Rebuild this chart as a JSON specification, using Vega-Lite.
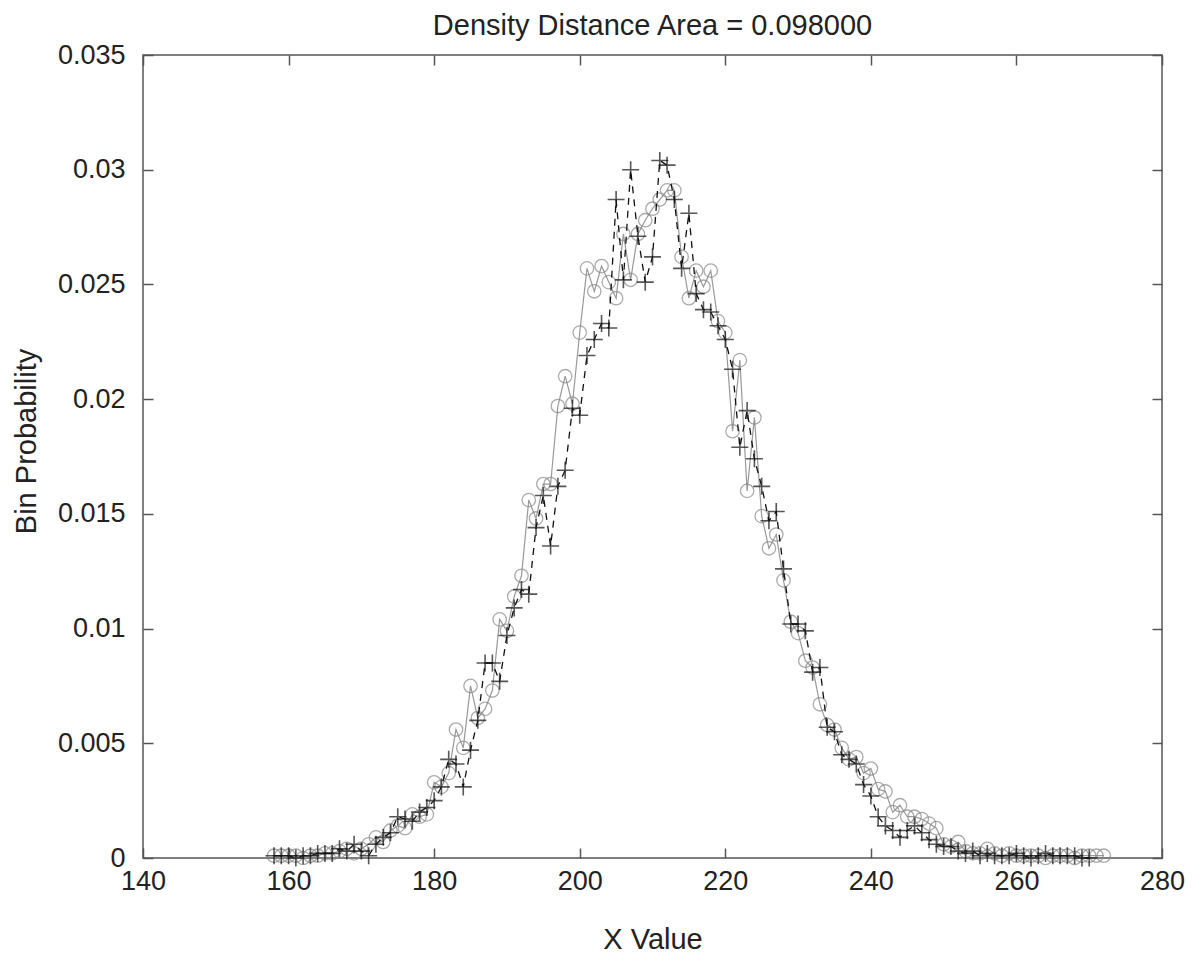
{
  "$schema": "https://vega.github.io/schema/vega-lite/v6.json",
  "autosize": {"type": "none"},
  "width": 1019,
  "height": 803,
  "padding": {"left": 143, "top": 55, "right": 38, "bottom": 100},
  "background": "white",
  "title": {"text": "Density Distance Area = 0.098000", "fontSize": 29, "fontWeight": "normal", "font": "Liberation Sans", "color": "#222", "anchor": "middle", "offset": 0},
  "config": {
    "font": "Liberation Sans",
    "view": {"stroke": "#555", "strokeWidth": 1.5},
    "axis": {"domain": false, "grid": false, "ticks": true, "tickColor": "#555", "tickWidth": 1.5, "tickSize": -10, "labelFont": "Liberation Sans", "labelFontSize": 27, "labelColor": "#222", "titleFont": "Liberation Sans", "titleFontSize": 29, "titleFontWeight": "normal", "titleColor": "#222"}
  },
  "datasets": {
    "circ": [
      {"x":158,"p":0.0001},{"x":159,"p":0.0001},{"x":160,"p":0.0001},{"x":161,"p":0.0001},{"x":162,"p":0.0000},{"x":163,"p":0.0001},{"x":164,"p":0.0001},{"x":165,"p":0.0002},{"x":166,"p":0.0002},{"x":167,"p":0.0003},{"x":168,"p":0.0004},{"x":169,"p":0.0002},{"x":170,"p":0.0004},{"x":171,"p":0.0006},{"x":172,"p":0.0009},{"x":173,"p":0.0007},{"x":174,"p":0.0012},{"x":175,"p":0.0014},{"x":176,"p":0.0013},{"x":177,"p":0.0019},{"x":178,"p":0.0018},{"x":179,"p":0.0019},{"x":180,"p":0.0033},{"x":181,"p":0.0031},{"x":182,"p":0.0037},{"x":183,"p":0.0056},{"x":184,"p":0.0048},{"x":185,"p":0.0075},{"x":186,"p":0.0061},{"x":187,"p":0.0065},{"x":188,"p":0.0073},{"x":189,"p":0.0104},{"x":190,"p":0.0099},{"x":191,"p":0.0114},{"x":192,"p":0.0123},{"x":193,"p":0.0156},{"x":194,"p":0.0148},{"x":195,"p":0.0163},{"x":196,"p":0.0163},{"x":197,"p":0.0197},{"x":198,"p":0.0210},{"x":199,"p":0.0198},{"x":200,"p":0.0229},{"x":201,"p":0.0257},{"x":202,"p":0.0247},{"x":203,"p":0.0258},{"x":204,"p":0.0251},{"x":205,"p":0.0244},{"x":206,"p":0.0272},{"x":207,"p":0.0252},{"x":208,"p":0.0272},{"x":209,"p":0.0278},{"x":210,"p":0.0283},{"x":211,"p":0.0287},{"x":212,"p":0.0291},{"x":213,"p":0.0291},{"x":214,"p":0.0262},{"x":215,"p":0.0244},{"x":216,"p":0.0256},{"x":217,"p":0.0249},{"x":218,"p":0.0256},{"x":219,"p":0.0234},{"x":220,"p":0.0229},{"x":221,"p":0.0186},{"x":222,"p":0.0217},{"x":223,"p":0.0160},{"x":224,"p":0.0192},{"x":225,"p":0.0149},{"x":226,"p":0.0135},{"x":227,"p":0.0141},{"x":228,"p":0.0121},{"x":229,"p":0.0103},{"x":230,"p":0.0098},{"x":231,"p":0.0086},{"x":232,"p":0.0083},{"x":233,"p":0.0067},{"x":234,"p":0.0058},{"x":235,"p":0.0056},{"x":236,"p":0.0048},{"x":237,"p":0.0043},{"x":238,"p":0.0044},{"x":239,"p":0.0037},{"x":240,"p":0.0039},{"x":241,"p":0.0030},{"x":242,"p":0.0029},{"x":243,"p":0.0020},{"x":244,"p":0.0023},{"x":245,"p":0.0018},{"x":246,"p":0.0018},{"x":247,"p":0.0017},{"x":248,"p":0.0015},{"x":249,"p":0.0013},{"x":250,"p":0.0006},{"x":251,"p":0.0005},{"x":252,"p":0.0007},{"x":253,"p":0.0003},{"x":254,"p":0.0002},{"x":255,"p":0.0002},{"x":256,"p":0.0004},{"x":257,"p":0.0002},{"x":258,"p":0.0001},{"x":259,"p":0.0002},{"x":260,"p":0.0001},{"x":261,"p":0.0001},{"x":262,"p":0.0001},{"x":263,"p":0.0001},{"x":264,"p":0.0000},{"x":265,"p":0.0001},{"x":266,"p":0.0001},{"x":267,"p":0.0001},{"x":268,"p":0.0000},{"x":269,"p":0.0001},{"x":270,"p":0.0001},{"x":271,"p":0.0001},{"x":272,"p":0.0001}
    ],
    "plus": [
      {"x":158,"p":0.0001},{"x":159,"p":0.0001},{"x":160,"p":0.0001},{"x":161,"p":0.0000},{"x":162,"p":0.0001},{"x":163,"p":0.0001},{"x":164,"p":0.0002},{"x":165,"p":0.0002},{"x":166,"p":0.0002},{"x":167,"p":0.0004},{"x":168,"p":0.0003},{"x":169,"p":0.0006},{"x":170,"p":0.0003},{"x":171,"p":0.0001},{"x":172,"p":0.0006},{"x":173,"p":0.0009},{"x":174,"p":0.0011},{"x":175,"p":0.0018},{"x":176,"p":0.0017},{"x":177,"p":0.0016},{"x":178,"p":0.0020},{"x":179,"p":0.0022},{"x":180,"p":0.0025},{"x":181,"p":0.0031},{"x":182,"p":0.0043},{"x":183,"p":0.0041},{"x":184,"p":0.0031},{"x":185,"p":0.0047},{"x":186,"p":0.0060},{"x":187,"p":0.0085},{"x":188,"p":0.0085},{"x":189,"p":0.0077},{"x":190,"p":0.0097},{"x":191,"p":0.0109},{"x":192,"p":0.0117},{"x":193,"p":0.0115},{"x":194,"p":0.0144},{"x":195,"p":0.0158},{"x":196,"p":0.0136},{"x":197,"p":0.0162},{"x":198,"p":0.0169},{"x":199,"p":0.0196},{"x":200,"p":0.0193},{"x":201,"p":0.0219},{"x":202,"p":0.0226},{"x":203,"p":0.0233},{"x":204,"p":0.0231},{"x":205,"p":0.0287},{"x":206,"p":0.0252},{"x":207,"p":0.0300},{"x":208,"p":0.0271},{"x":209,"p":0.0251},{"x":210,"p":0.0262},{"x":211,"p":0.0304},{"x":212,"p":0.0302},{"x":213,"p":0.0287},{"x":214,"p":0.0257},{"x":215,"p":0.0281},{"x":216,"p":0.0246},{"x":217,"p":0.0239},{"x":218,"p":0.0238},{"x":219,"p":0.0232},{"x":220,"p":0.0226},{"x":221,"p":0.0213},{"x":222,"p":0.0179},{"x":223,"p":0.0195},{"x":224,"p":0.0174},{"x":225,"p":0.0162},{"x":226,"p":0.0147},{"x":227,"p":0.0151},{"x":228,"p":0.0126},{"x":229,"p":0.0102},{"x":230,"p":0.0102},{"x":231,"p":0.0099},{"x":232,"p":0.0081},{"x":233,"p":0.0083},{"x":234,"p":0.0057},{"x":235,"p":0.0055},{"x":236,"p":0.0045},{"x":237,"p":0.0043},{"x":238,"p":0.0041},{"x":239,"p":0.0032},{"x":240,"p":0.0027},{"x":241,"p":0.0018},{"x":242,"p":0.0014},{"x":243,"p":0.0012},{"x":244,"p":0.0009},{"x":245,"p":0.0012},{"x":246,"p":0.0014},{"x":247,"p":0.0011},{"x":248,"p":0.0008},{"x":249,"p":0.0006},{"x":250,"p":0.0005},{"x":251,"p":0.0005},{"x":252,"p":0.0003},{"x":253,"p":0.0002},{"x":254,"p":0.0003},{"x":255,"p":0.0001},{"x":256,"p":0.0002},{"x":257,"p":0.0001},{"x":258,"p":0.0001},{"x":259,"p":0.0001},{"x":260,"p":0.0002},{"x":261,"p":0.0001},{"x":262,"p":0.0000},{"x":263,"p":0.0001},{"x":264,"p":0.0002},{"x":265,"p":0.0001},{"x":266,"p":0.0001},{"x":267,"p":0.0001},{"x":268,"p":0.0001},{"x":269,"p":0.0000},{"x":270,"p":0.0000}
    ]
  },
  "layer": [
    {
      "data": {"name": "circ"},
      "mark": {"type": "line", "color": "#999", "strokeWidth": 1.2},
      "encoding": {
        "x": {"field": "x", "type": "quantitative", "scale": {"domain": [140, 280], "nice": false, "zero": false}, "axis": {"orient": "bottom", "title": "X Value", "values": [140,160,180,200,220,240,260,280], "labelPadding": 20, "titlePadding": 31, "labelFlush": false}},
        "y": {"field": "p", "type": "quantitative", "scale": {"domain": [0, 0.035], "nice": false}, "axis": {"orient": "left", "title": "Bin Probability", "values": [0,0.005,0.01,0.015,0.02,0.025,0.03,0.035], "labelPadding": 28, "titlePadding": 16, "titleY": 386, "labelFlush": false, "labelExpr": "datum.value == 0 ? '0' : format(datum.value, '.3~f')"}}
      }
    },
    {
      "data": {"name": "circ"},
      "mark": {"type": "point", "shape": "circle", "filled": false, "color": "#888", "strokeWidth": 1.3, "size": 180},
      "encoding": {
        "x": {"field": "x", "type": "quantitative", "axis": null},
        "y": {"field": "p", "type": "quantitative", "axis": null}
      }
    },
    {
      "data": {"name": "plus"},
      "mark": {"type": "line", "color": "#111", "strokeWidth": 1.3, "strokeDash": [7, 6]},
      "encoding": {
        "x": {"field": "x", "type": "quantitative", "axis": {"orient": "top", "labels": false, "title": null, "values": [140,160,180,200,220,240,260,280]}},
        "y": {"field": "p", "type": "quantitative", "axis": {"orient": "right", "labels": false, "title": null, "values": [0,0.005,0.01,0.015,0.02,0.025,0.03,0.035]}}
      }
    },
    {
      "data": {"name": "plus"},
      "mark": {"type": "point", "shape": "M-1,0L1,0M0,-1L0,1", "filled": false, "color": "#111", "strokeWidth": 1.6, "size": 289},
      "encoding": {
        "x": {"field": "x", "type": "quantitative", "axis": null},
        "y": {"field": "p", "type": "quantitative", "axis": null}
      }
    }
  ]
}
